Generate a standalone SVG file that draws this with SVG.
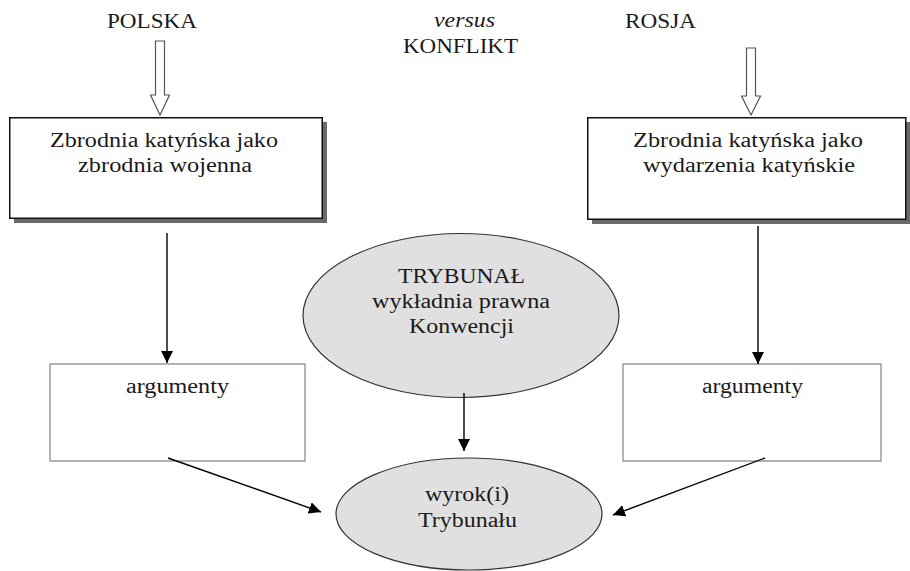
<svg xmlns="http://www.w3.org/2000/svg" width="910" height="571" viewBox="0 0 910 571">
<style>
text{font-family:"Liberation Serif","Times New Roman",serif;font-size:20px;fill:#1a1a1a}
.box{fill:#fff;stroke:#111;stroke-width:1.5}
.shadow{fill:#6a6a6a}
.arg{fill:#fff;stroke:#8a8a8a;stroke-width:1.3}
.ell{fill:#e0e0e0;stroke:#333;stroke-width:1.2}
.hollow{fill:#fff;stroke:#555;stroke-width:1.2}
.conn{stroke:#000;stroke-width:1.4;fill:none;marker-end:url(#ah)}
</style>
<defs>
<marker id="ah" viewBox="0 0 12 12" refX="12" refY="6" markerWidth="12" markerHeight="12" markerUnits="userSpaceOnUse" orient="auto">
<path d="M0,0 L12,6 L0,12 Z" fill="#000"/>
</marker>
</defs>

<g id="labels">
<text x="107" y="28" textLength="90" lengthAdjust="spacingAndGlyphs">POLSKA</text>
<text x="434" y="27" textLength="61" lengthAdjust="spacingAndGlyphs" font-style="italic">versus</text>
<text x="403" y="53" textLength="115" lengthAdjust="spacingAndGlyphs">KONFLIKT</text>
<text x="625" y="28" textLength="71" lengthAdjust="spacingAndGlyphs">ROSJA</text>
</g>

<g id="hollow-arrows">
<polygon class="hollow" points="155.5,41 164.5,41 164.5,95 169.5,95 160,115 150.5,95 155.5,95"/>
<polygon class="hollow" points="746.5,48 755.5,48 755.5,96 760.5,96 751,115 741.5,96 746.5,96"/>
</g>

<g id="node-polska">
<rect class="shadow" x="14" y="122" width="313" height="101"/>
<rect class="box" x="9.75" y="117.75" width="312.5" height="100.5"/>
<text x="50" y="147" textLength="228" lengthAdjust="spacingAndGlyphs">Zbrodnia katyńska jako</text>
<text x="78" y="172" textLength="174" lengthAdjust="spacingAndGlyphs">zbrodnia wojenna</text>
</g>

<g id="node-rosja">
<rect class="shadow" x="592" y="122" width="318" height="102"/>
<rect class="box" x="587.75" y="117.75" width="318" height="101.5"/>
<text x="633" y="147" textLength="230" lengthAdjust="spacingAndGlyphs">Zbrodnia katyńska jako</text>
<text x="643" y="172" textLength="212" lengthAdjust="spacingAndGlyphs">wydarzenia katyńskie</text>
</g>

<g id="node-trybunal">
<ellipse class="ell" cx="461" cy="315.5" rx="158" ry="82"/>
<text x="398" y="283" textLength="127" lengthAdjust="spacingAndGlyphs">TRYBUNAŁ</text>
<text x="372" y="308" textLength="178" lengthAdjust="spacingAndGlyphs">wykładnia prawna</text>
<text x="409" y="333" textLength="105" lengthAdjust="spacingAndGlyphs">Konwencji</text>
</g>

<g id="node-arg-left">
<rect class="arg" x="50" y="364" width="255" height="97"/>
<text x="126" y="393" textLength="103" lengthAdjust="spacingAndGlyphs">argumenty</text>
</g>

<g id="node-arg-right">
<rect class="arg" x="623" y="364" width="258" height="97"/>
<text x="702" y="393" textLength="101" lengthAdjust="spacingAndGlyphs">argumenty</text>
</g>

<g id="node-wyrok">
<ellipse class="ell" cx="469" cy="514" rx="133" ry="56"/>
<text x="425" y="501" textLength="84" lengthAdjust="spacingAndGlyphs">wyrok(i)</text>
<text x="418" y="527" textLength="99" lengthAdjust="spacingAndGlyphs">Trybunału</text>
</g>

<g id="connectors">
<line class="conn" x1="167" y1="233" x2="167" y2="363"/>
<line class="conn" x1="758" y1="226" x2="758" y2="364"/>
<line class="conn" x1="464" y1="393" x2="464" y2="451"/>
<line class="conn" x1="168" y1="458" x2="321" y2="512"/>
<line class="conn" x1="765" y1="458" x2="613" y2="515"/>
</g>
</svg>
